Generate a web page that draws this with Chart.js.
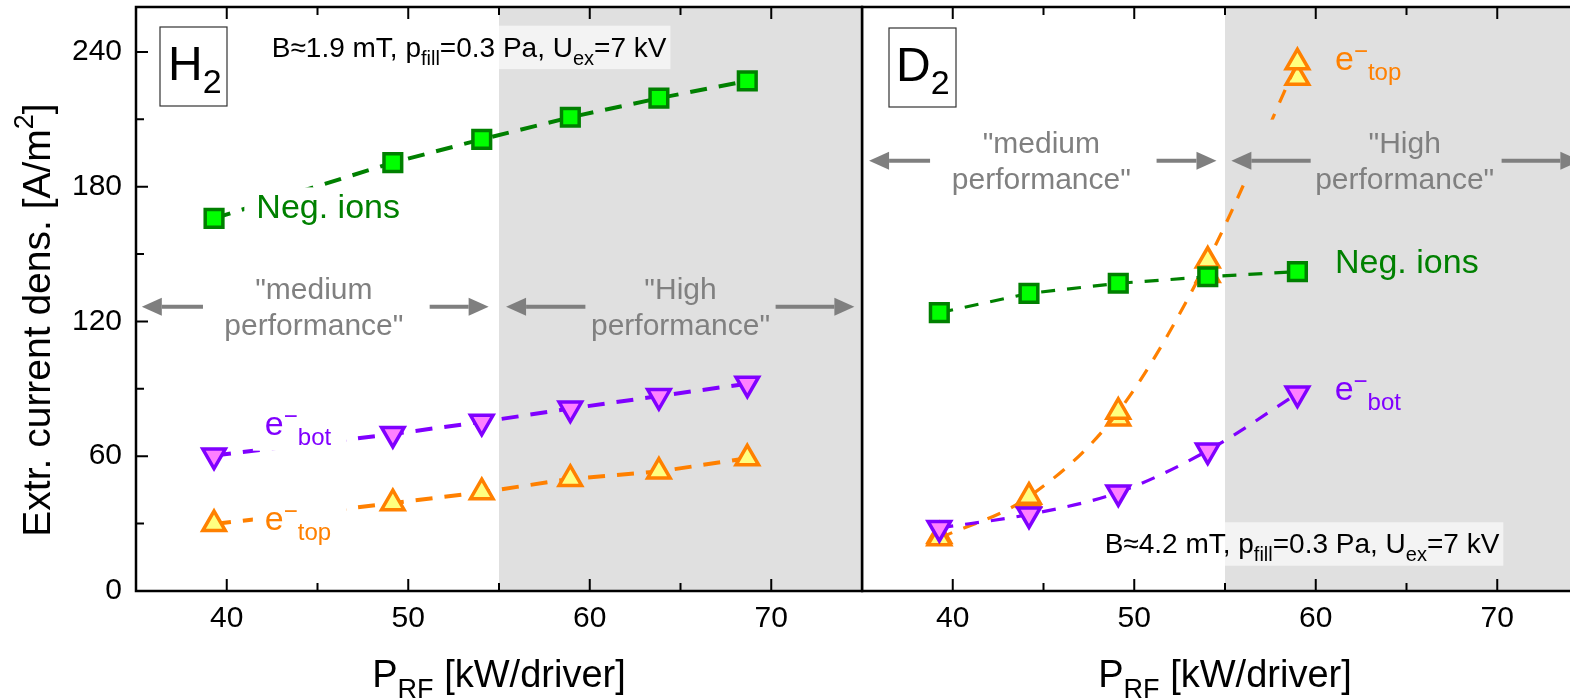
<!DOCTYPE html>
<html lang="en">
<head>
  <meta charset="UTF-8" />
  <title>Extracted current density vs RF power</title>
  <script src="https://cdn.jsdelivr.net/npm/chart.js"></script>
  <style>
    body { margin: 0; width: 1570px; height: 698px; overflow: hidden; background: #fff; position: relative; }
    canvas { position: absolute; top: 0; }
    #chartH { left: 0; }
    #chartD { left: 861px; }
  </style>
</head>
<body>
  <canvas id="chartH" width="864" height="698"></canvas>
  <canvas id="chartD" width="740" height="698"></canvas>

  <script>
    // ---- data ----
    const xTicks = [40, 45, 50, 55, 60, 65, 70];
    const yTicks = [0, 30, 60, 90, 120, 150, 180, 210, 240];

    // H2 panel
    const powerH   = [39.3, 49.15, 54.05, 58.93, 63.81, 68.68];
    const negIonsH = [165.9, 190.7, 201.1, 210.9, 219.4, 227.1];
    const eBotH    = [60.3, 69.9, 75.3, 81.2, 86.8, 92.3];
    const eTopH    = [29.8, 39.1, 44.0, 49.9, 53.2, 59.1];

    // D2 panel
    const powerD   = [39.26, 44.2, 49.12, 54.05, 58.99];
    const negIonsD = [123.9, 132.5, 137.0, 139.9, 142.2];
    const eBotD    = [28.1, 34.1, 43.9, 62.5, 87.9];
    const eTopD    = [23.5, 42.0, 79.8, 147.1, 235.4];
    const eTopD2   = [24.5, 40.5, 76.8, 140.7, 228.5];   // repeated shots

    const FONT = '"Liberation Sans", Arial, sans-serif';
    const SHADE = '#e0e0e0';
    const GREEN = '#008000', PURPLE = '#8000ff', ORANGE = '#ff8000';
    Chart.defaults.font.family = FONT;

    function drawParts(ctx, x, y, parts, color) {
      ctx.fillStyle = color;
      ctx.textAlign = 'left';
      ctx.textBaseline = 'alphabetic';
      let cx = x;
      for (const p of parts) {
        ctx.font = p.s + 'px ' + FONT;
        ctx.fillText(p.t, cx, y + (p.dy || 0));
        cx += ctx.measureText(p.t).width;
      }
      return cx - x;
    }
    function partsWidth(ctx, parts) {
      let w = 0;
      for (const p of parts) { ctx.font = p.s + 'px ' + FONT; w += ctx.measureText(p.t).width; }
      return w;
    }
    function arrow(ctx, x0, x1, yy) {
      const dir = Math.sign(x1 - x0);
      const hb = x1 - dir * 20;
      ctx.strokeStyle = ctx.fillStyle = '#7f7f7f';
      ctx.lineWidth = 4;
      ctx.beginPath(); ctx.moveTo(x0, yy); ctx.lineTo(hb, yy); ctx.stroke();
      ctx.beginPath(); ctx.moveTo(x1, yy); ctx.lineTo(hb, yy - 9); ctx.lineTo(hb, yy + 9); ctx.closePath(); ctx.fill();
    }
    function eLabel(sub) {
      return [{ t: 'e', s: 34 }, { t: '\u2212', s: 24, dy: -11 }, { t: sub, s: 24, dy: 10 }];
    }
    function infoParts(b) {
      return [
        { t: 'B\u2248' + b + ' mT, p', s: 28 }, { t: 'fill', s: 20, dy: 8 },
        { t: '=0.3 Pa, U', s: 28 }, { t: 'ex', s: 20, dy: 8 }, { t: '=7 kV', s: 28 }
      ];
    }

    // decorations: shading, annotations, frame with inward ticks, titles
    function decorPlugin(cfg) {
      return {
        id: 'decor' + cfg.tag,
        beforeDatasetsDraw(chart) {
          const { ctx, chartArea: a, scales: { x } } = chart;
          const sx = x.getPixelForValue(55);
          ctx.save();
          ctx.fillStyle = SHADE;
          ctx.fillRect(sx, a.top, a.right - sx, a.bottom - a.top);
          ctx.restore();
        },
        afterDatasetsDraw(chart) {
          const { ctx, chartArea: a, scales: { x, y } } = chart;
          const edge = x.getPixelForValue(55);
          const bgAt = px => (px >= edge ? SHADE : '#ffffff');
          ctx.save();

          // "medium" / "High performance" blocks
          cfg.blocks.forEach(b => {
            const ay = y.getPixelForValue(b.y);
            const xs = b.arrows.flat().map(v => x.getPixelForValue(v));
            const l = Math.min(...xs), r = Math.max(...xs);
            ctx.fillStyle = bgAt(l);
            ctx.fillRect(l, ay - 41, r - l, 62);
            b.arrows.forEach(([from, to]) => arrow(ctx, x.getPixelForValue(from), x.getPixelForValue(to), ay));
            const cx = x.getPixelForValue(b.cx);
            ctx.font = '30px ' + FONT;
            ctx.fillStyle = '#808080';
            ctx.textAlign = 'center';
            ctx.textBaseline = 'alphabetic';
            ctx.fillText(b.lines[0], cx, ay - 8);
            ctx.fillText(b.lines[1], cx, ay + 28.5);
          });

          // series labels
          cfg.labels.forEach(lb => {
            const px = x.getPixelForValue(lb.x), py = y.getPixelForValue(lb.y);
            const w = partsWidth(ctx, lb.parts);
            ctx.fillStyle = bgAt(px);
            ctx.fillRect(px - 12, py - 31, w + 27, 47);
            drawParts(ctx, px, py, lb.parts, lb.color);
          });

          // parameter box
          const ix = x.getPixelForValue(cfg.info.x), iy = y.getPixelForValue(cfg.info.y);
          const iw = partsWidth(ctx, cfg.info.parts);
          ctx.fillStyle = 'rgba(255,255,255,0.6)';
          ctx.fillRect(ix - 8, iy - 31, iw + 12, 43.5);
          drawParts(ctx, ix, iy, cfg.info.parts, '#000');

          // gas tag box
          const tx = a.left + cfg.tagBox.dx, ty = a.top + cfg.tagBox.dy;
          ctx.fillStyle = '#fff';
          ctx.fillRect(tx, ty, 67, 79);
          ctx.strokeStyle = '#333';
          ctx.lineWidth = 1.2;
          ctx.strokeRect(tx, ty, 67, 79);
          drawParts(ctx, tx + cfg.tagBox.tx, ty + 53, [{ t: cfg.tag, s: 48 }, { t: '2', s: 34, dy: 13 }], '#000');

          // frame and inward ticks
          ctx.strokeStyle = '#000';
          ctx.lineWidth = 2.5;
          ctx.strokeRect(a.left, a.top, a.right - a.left, a.bottom - a.top);
          ctx.lineWidth = 2;
          ctx.beginPath();
          x.ticks.forEach(t => {
            const px = x.getPixelForValue(t.value);
            const len = t.value % 10 === 0 ? 12 : 8;
            ctx.moveTo(px, a.bottom); ctx.lineTo(px, a.bottom - len);
            ctx.moveTo(px, a.top); ctx.lineTo(px, a.top + len);
          });
          if (cfg.showY) {
            y.ticks.forEach(t => {
              const py = y.getPixelForValue(t.value);
              const len = t.value % 60 === 0 ? 12 : 8;
              ctx.moveTo(a.left, py); ctx.lineTo(a.left + len, py);
            });
          }
          ctx.stroke();

          // axis titles
          const xt = [{ t: 'P', s: 38 }, { t: 'RF', s: 27, dy: 11 }, { t: ' [kW/driver]', s: 38 }];
          const xw = partsWidth(ctx, xt);
          drawParts(ctx, (a.left + a.right) / 2 - xw / 2, a.bottom + 95.7, xt, '#000');
          if (cfg.showY) {
            const yt = [{ t: 'Extr. current dens. [A/m', s: 39 }, { t: '2', s: 27, dy: -17 }, { t: ']', s: 39 }];
            const yw = partsWidth(ctx, yt);
            ctx.translate(50, 320);
            ctx.rotate(-Math.PI / 2);
            drawParts(ctx, -yw / 2, 0, yt, '#000');
          }
          ctx.restore();
        }
      };
    }

    function series(xs, ys, color, fill, style, extra) {
      const marker = style === 'square'
        ? { pointStyle: 'rect', pointRadius: 12.5, pointBorderWidth: 3.5 }
        : { pointStyle: 'triangle', pointRadius: 13, pointBorderWidth: 3.5, pointRotation: style === 'down' ? 180 : 0 };
      return Object.assign({
        data: xs.map((v, i) => ({ x: v, y: ys[i] })),
        borderColor: color,
        pointBackgroundColor: fill,
        pointBorderColor: color,
        backgroundColor: fill,
        fill: false
      }, marker, extra);
    }

    function panelOptions(showY, pad) {
      return {
        responsive: false,
        animation: false,
        events: [],
        layout: { padding: pad, autoPadding: false },
        plugins: { legend: { display: false }, tooltip: { enabled: false } },
        scales: {
          x: {
            type: 'linear', min: 35, max: 75,
            afterBuildTicks: s => { s.ticks = xTicks.map(v => ({ value: v })); },
            afterFit: s => { s.height = 107; s.paddingLeft = s.paddingRight = 0; },
            grid: { display: false, drawTicks: false },
            border: { display: false },
            ticks: {
              autoSkip: false, maxRotation: 0, padding: 10, color: '#000',
              font: { size: 30 },
              callback: v => (v % 10 === 0 ? String(v) : '')
            }
          },
          y: {
            type: 'linear', min: 0, max: 260, display: showY,
            afterBuildTicks: s => { s.ticks = yTicks.map(v => ({ value: v })); },
            afterFit: s => { if (showY) { s.width = 136; s.paddingTop = s.paddingBottom = 0; } },
            grid: { display: false, drawTicks: false },
            border: { display: false },
            ticks: {
              autoSkip: false, padding: 14, color: '#000',
              font: { size: 30 },
              callback: v => (v % 60 === 0 ? String(v) : '')
            }
          }
        }
      };
    }

    const dashH = { borderWidth: 4, borderDash: [17, 12], tension: 0 };
    const dashD = { borderWidth: 3.2, borderDash: [14, 12] };

    new Chart(document.getElementById('chartH'), {
      type: 'line',
      data: {
        datasets: [
          series(powerH, negIonsH, GREEN, '#00ff00', 'square', dashH),
          series(powerH, eBotH, PURPLE, '#ff80ff', 'down', dashH),
          series(powerH, eTopH, ORANGE, '#ffff80', 'up', dashH)
        ]
      },
      options: panelOptions(true, { top: 7, right: 2, left: 0, bottom: 0 }),
      plugins: [decorPlugin({
        tag: 'H', showY: true,
        tagBox: { dx: 24, dy: 20, tx: 8 },
        info: { x: 42.48, y: 237.9, parts: infoParts('1.9') },
        labels: [
          { x: 41.63, y: 165.9, color: GREEN, parts: [{ t: 'Neg. ions', s: 34 }] },
          { x: 42.1, y: 69.6, color: PURPLE, parts: eLabel('bot') },
          { x: 42.1, y: 27.3, color: ORANGE, parts: eLabel('top') }
        ],
        blocks: [
          { cx: 44.8, y: 126.6, lines: ['"medium', 'performance"'], arrows: [[38.69, 35.32], [51.18, 54.43]] },
          { cx: 65.0, y: 126.6, lines: ['"High', 'performance"'], arrows: [[59.76, 55.39], [70.24, 74.58]] }
        ]
      })]
    });

    new Chart(document.getElementById('chartD'), {
      type: 'line',
      data: {
        datasets: [
          series(powerD, negIonsD, GREEN, '#00ff00', 'square', Object.assign({ tension: 0 }, dashD)),
          series(powerD, eBotD, PURPLE, '#ff80ff', 'down', Object.assign({ cubicInterpolationMode: 'monotone' }, dashD)),
          series(powerD, eTopD, ORANGE, '#ffff80', 'up', Object.assign({ cubicInterpolationMode: 'monotone' }, dashD)),
          series(powerD, eTopD2, ORANGE, '#ffff80', 'up', { showLine: false })
        ]
      },
      options: panelOptions(false, { top: 7, right: 13, left: 1, bottom: 0 }),
      plugins: [decorPlugin({
        tag: 'D', showY: false,
        tagBox: { dx: 27, dy: 21, tx: 7 },
        info: { x: 48.37, y: 16.8, parts: infoParts('4.2') },
        labels: [
          { x: 61.06, y: 141.5, color: GREEN, parts: [{ t: 'Neg. ions', s: 34 }] },
          { x: 61.04, y: 85.0, color: PURPLE, parts: eLabel('bot') },
          { x: 61.06, y: 232.0, color: ORANGE, parts: eLabel('top') }
        ],
        blocks: [
          { cx: 44.88, y: 191.6, lines: ['"medium', 'performance"'], arrows: [[38.75, 35.39], [51.23, 54.53]] },
          { cx: 64.9, y: 191.6, lines: ['"High', 'performance"'], arrows: [[59.72, 55.35], [70.24, 74.58]] }
        ]
      })]
    });
  </script>
</body>
</html>
